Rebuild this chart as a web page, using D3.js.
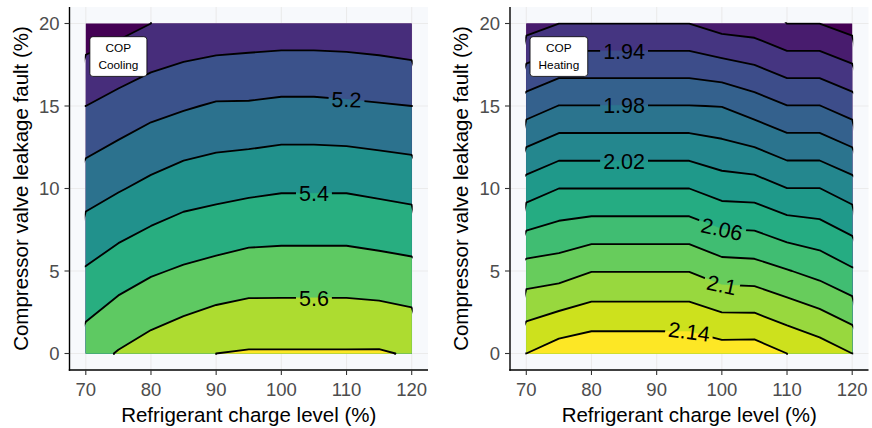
<!DOCTYPE html>
<html>
<head>
<meta charset="utf-8">
<script src="https://cdn.jsdelivr.net/npm/d3@7"></script>
<style>
    body { margin: 0; background: #fff; }
    text { font-family: "Liberation Sans", Arial, sans-serif; }
</style>
</head>
<body>
<div id="chart"></div>
<script>
// grid the model was evaluated on
let chargeLevels = [70, 75, 80, 85, 90, 95, 100, 105, 110, 115, 120];
let faultLevels = [0, 5, 10, 15, 20];

// one row per fault level (0 -> 20), one column per charge level
let copCooling = [
    [5.557, 5.607, 5.644, 5.673, 5.700, 5.708, 5.708, 5.708, 5.708, 5.709, 5.691],
    [5.409, 5.455, 5.489, 5.512, 5.530, 5.547, 5.548, 5.548, 5.548, 5.539, 5.528],
    [5.258, 5.292, 5.326, 5.356, 5.369, 5.381, 5.391, 5.391, 5.391, 5.380, 5.369],
    [5.100, 5.136, 5.169, 5.190, 5.210, 5.211, 5.220, 5.220, 5.214, 5.207, 5.200],
    [4.939, 4.966, 5.000, 5.022, 5.031, 5.039, 5.042, 5.042, 5.040, 5.033, 5.020]
];
let copHeating = [
    [2.1400, 2.1507, 2.1550, 2.1550, 2.1550, 2.1548, 2.1499, 2.1506, 2.1400, 2.1314, 2.1200],
    [2.0888, 2.0911, 2.0994, 2.0994, 2.0994, 2.0994, 2.0900, 2.0887, 2.0812, 2.0733, 2.0624],
    [2.0300, 2.0400, 2.0400, 2.0400, 2.0400, 2.0400, 2.0311, 2.0300, 2.0203, 2.0203, 2.0098],
    [1.9702, 1.9805, 1.9805, 1.9805, 1.9805, 1.9805, 1.9795, 1.9702, 1.9605, 1.9605, 1.9502],
    [1.9113, 1.9199, 1.9199, 1.9199, 1.9199, 1.9199, 1.9114, 1.9095, 1.8999, 1.8999, 1.8913]
];

let coolingBreaks = [5.0, 5.1, 5.2, 5.3, 5.4, 5.5, 5.6, 5.7];
let heatingBreaks = [1.90, 1.92, 1.94, 1.96, 1.98, 2.00, 2.02, 2.04, 2.06, 2.08, 2.10, 2.12, 2.14];

// which contour levels get a label, and at what charge level
let coolingLabels = [{ level: 5.2, x: 110 }, { level: 5.4, x: 105 }, { level: 5.6, x: 105 }];
let heatingLabels = [
    { level: 1.94, x: 85 }, { level: 1.98, x: 85 }, { level: 2.02, x: 85 },
    { level: 2.06, x: 100 }, { level: 2.1, x: 100 }, { level: 2.14, x: 95 }
];

let xTicks = [70, 80, 90, 100, 110, 120];
let yTicks = [0, 5, 10, 15, 20];

const W = 872, H = 428;
const panelW = 358.5;

let svg = d3.select("#chart")
    .append("svg")
    .attr("width", W)
    .attr("height", H);

let defs = svg.append("defs");

// y position where a contour level crosses a given charge level
function levelY(grid, level, xv) {
    let i = Math.max(0, Math.min(d3.bisectRight(chargeLevels, xv) - 1, chargeLevels.length - 2));
    let t = (xv - chargeLevels[i]) / (chargeLevels[i + 1] - chargeLevels[i]);
    let col = grid.map(row => row[i] + t * (row[i + 1] - row[i]));
    for (let j = 0; j < col.length - 1; j++) {
        let a = col[j] - level, b = col[j + 1] - level;
        if (a * b <= 0 && a !== b) {
            return faultLevels[j] + a / (a - b) * (faultLevels[j + 1] - faultLevels[j]);
        }
    }
    return null;
}

function contourPanel(left, grid, breaks, labels, boxText, id) {
    let x = d3.scaleLinear().domain([67.5, 122.5]).range([left, left + panelW]);
    let y = d3.scaleLinear().domain([-1, 21]).range([370, 7]);

    let g = svg.append("g");

    g.append("rect")
        .attr("x", left).attr("y", 7)
        .attr("width", panelW).attr("height", 363)
        .attr("fill", "#f7f9fc");

    g.selectAll(".gx").data(xTicks).join("line")
        .attr("x1", d => x(d)).attr("x2", d => x(d))
        .attr("y1", 7).attr("y2", 370)
        .attr("stroke", "#ebebeb").attr("stroke-width", 1.1);
    g.selectAll(".gy").data(yTicks).join("line")
        .attr("y1", d => y(d)).attr("y2", d => y(d))
        .attr("x1", left).attr("x2", left + panelW)
        .attr("stroke", "#ebebeb").attr("stroke-width", 1.1);

    // grid index -> data units (d3.contours puts sample i at i + 0.5)
    let nx = chargeLevels.length, ny = faultLevels.length;
    let colScale = d3.scaleLinear().domain([0.5, nx - 0.5]).range(d3.extent(chargeLevels));
    let rowScale = d3.scaleLinear().domain([0.5, ny - 0.5]).range(d3.extent(faultLevels));
    let proj = d3.geoTransform({
        point: function (px, py) { this.stream.point(x(colScale(px)), y(rowScale(py))); }
    });
    let path = d3.geoPath(proj);

    let values = grid.flat();
    let levels = [d3.min(values)].concat(breaks);
    let polys = d3.contours().size([nx, ny]).thresholds(levels)(values);
    let color = i => d3.interpolateViridis(i / (levels.length - 1));

    let x0 = x(d3.min(chargeLevels)), x1 = x(d3.max(chargeLevels));
    let y0 = y(d3.max(faultLevels)), y1 = y(d3.min(faultLevels));

    defs.append("clipPath").attr("id", "clip-" + id)
        .append("rect").attr("x", x0).attr("y", y0)
        .attr("width", x1 - x0).attr("height", y1 - y0);
    defs.append("clipPath").attr("id", "clipl-" + id)
        .append("rect").attr("x", x0 - 1).attr("y", y0 - 1.2)
        .attr("width", x1 - x0 + 2).attr("height", y1 - y0 + 2.4);

    g.append("g")
        .attr("clip-path", "url(#clip-" + id + ")")
        .selectAll("path")
        .data(polys)
        .join("path")
        .attr("d", path)
        .attr("fill", (d, i) => color(i))
        .attr("stroke", (d, i) => color(i))
        .attr("stroke-width", 0.4);

    // label positions and angles follow the contour lines
    let fontSize = 21.5;
    let lab = labels.map(l => {
        let py = y(levelY(grid, l.level, l.x));
        let pa = [x(l.x - 5), y(levelY(grid, l.level, l.x - 5))];
        let pb = [x(l.x + 5), y(levelY(grid, l.level, l.x + 5))];
        let ang = Math.atan2(pb[1] - pa[1], pb[0] - pa[0]) * 180 / Math.PI;
        if (Math.abs(ang) < 6) ang = ang / 3;
        return { text: String(l.level), px: x(l.x), py: py, ang: ang };
    });

    let mask = defs.append("mask").attr("id", "mask-" + id)
        .attr("maskUnits", "userSpaceOnUse")
        .attr("x", 0).attr("y", 0).attr("width", W).attr("height", H);
    mask.append("rect").attr("width", W).attr("height", H).attr("fill", "#fff");

    let lines = g.append("g")
        .attr("clip-path", "url(#clipl-" + id + ")")
        .append("g")
        .attr("mask", "url(#mask-" + id + ")");
    lines.selectAll("path")
        .data(polys.slice(1))
        .join("path")
        .attr("d", path)
        .attr("fill", "none")
        .attr("stroke", "#000")
        .attr("stroke-width", 1.85)
        .attr("stroke-linejoin", "round");

    let texts = g.selectAll(".clab").data(lab).join("text")
        .attr("class", "clab")
        .attr("transform", d => "translate(" + d.px + "," + d.py + ") rotate(" + d.ang + ")")
        .attr("text-anchor", "middle")
        .attr("dy", "0.36em")
        .style("font-size", fontSize + "px")
        .attr("fill", "#000")
        .text(d => d.text);

    texts.each(function (d) {
        let w = this.getComputedTextLength() + 6;
        mask.append("rect")
            .attr("transform", "translate(" + d.px + "," + d.py + ") rotate(" + d.ang + ")")
            .attr("x", -w / 2).attr("y", -9)
            .attr("width", w).attr("height", 18)
            .attr("fill", "#000");
    });

    // COP annotation box
    let bx = x(75), by = y(18);
    let box = g.append("g");
    let rect = box.append("rect");
    let bt = box.append("text")
        .attr("text-anchor", "middle")
        .style("font-size", "11.8px")
        .attr("fill", "#000");
    boxText.forEach((s, i) => {
        bt.append("tspan").attr("x", bx).attr("y", by - 8.3 + i * 16.7 + 4).text(s);
    });
    let bb = bt.node().getBBox();
    rect.attr("x", bb.x - 8.5).attr("y", bb.y - 4.5)
        .attr("width", bb.width + 17).attr("height", bb.height + 9)
        .attr("rx", 3).attr("ry", 3)
        .attr("fill", "#fff").attr("stroke", "#000").attr("stroke-width", 0.8);

    // axes
    g.append("line")
        .attr("x1", left).attr("x2", left).attr("y1", 7).attr("y2", 370.7)
        .attr("stroke", "#000").attr("stroke-width", 1.4);
    g.append("line")
        .attr("x1", left - 0.7).attr("x2", left + panelW).attr("y1", 370).attr("y2", 370)
        .attr("stroke", "#000").attr("stroke-width", 1.4);

    g.selectAll(".tx").data(xTicks).join("line")
        .attr("x1", d => x(d)).attr("x2", d => x(d))
        .attr("y1", 370).attr("y2", 375)
        .attr("stroke", "#333").attr("stroke-width", 1.1);
    g.selectAll(".ty").data(yTicks).join("line")
        .attr("y1", d => y(d)).attr("y2", d => y(d))
        .attr("x1", left - 5).attr("x2", left)
        .attr("stroke", "#333").attr("stroke-width", 1.1);

    g.selectAll(".lx").data(xTicks).join("text")
        .attr("x", d => x(d)).attr("y", 396)
        .attr("text-anchor", "middle")
        .style("font-size", "18.5px")
        .attr("fill", "#4d4d4d")
        .text(d => d);
    g.selectAll(".ly").data(yTicks).join("text")
        .attr("x", left - 10).attr("y", d => y(d))
        .attr("dy", "0.36em")
        .attr("text-anchor", "end")
        .style("font-size", "18.5px")
        .attr("fill", "#4d4d4d")
        .text(d => d);

    g.append("text")
        .attr("x", left + panelW / 2).attr("y", 422)
        .attr("text-anchor", "middle")
        .style("font-size", "20.5px")
        .attr("fill", "#000")
        .text("Refrigerant charge level (%)");
    g.append("text")
        .attr("transform", "translate(" + (left - 42) + "," + (7 + 363 / 2) + ") rotate(-90)")
        .attr("text-anchor", "middle")
        .style("font-size", "20.5px")
        .attr("fill", "#000")
        .text("Compressor valve leakage fault (%)");
}

contourPanel(69.5, copCooling, coolingBreaks, coolingLabels, ["COP", "Cooling"], "cool");
contourPanel(510, copHeating, heatingBreaks, heatingLabels, ["COP", "Heating"], "heat");
</script>
</body>
</html>
